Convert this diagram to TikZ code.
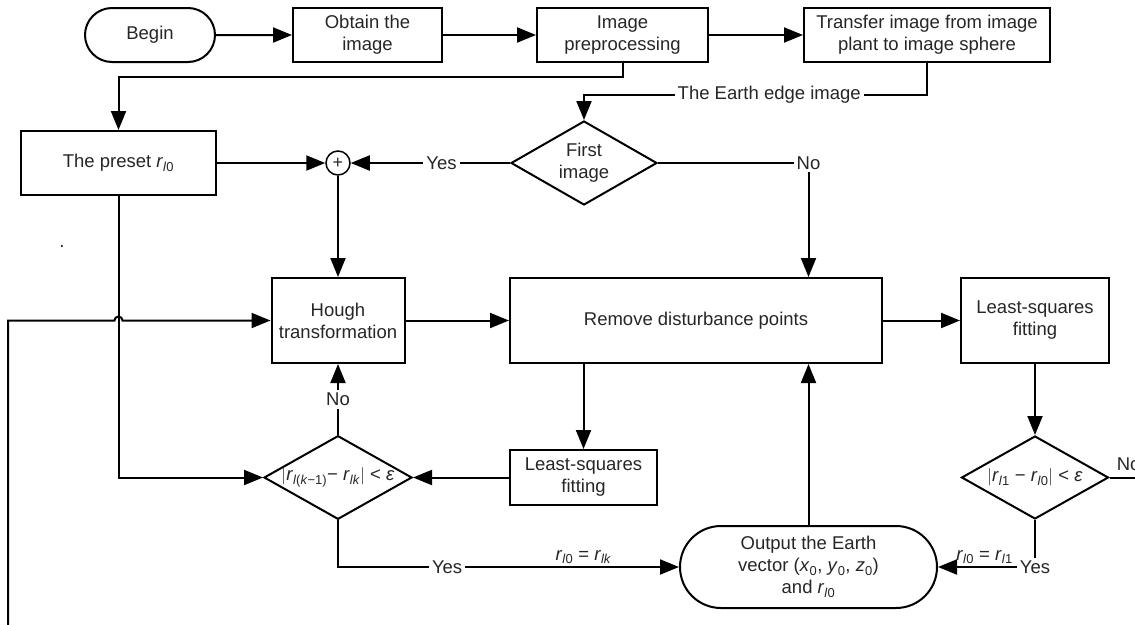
\documentclass[tikz,border=0pt]{standalone}
\usepackage{fontspec}
\setmainfont{Liberation Sans}
\usetikzlibrary{shapes.geometric,shapes.misc,arrows.meta}
\newcommand{\rl}[1]{\textit{r}\textsubscript{#1}}

\begin{document}
\begin{tikzpicture}[x=1pt,y=-1pt,line width=2pt]
        \tikzstyle{every node}=[font={\fontsize{18.5}{22}\selectfont}, align=center, text=black!85]
        \tikzstyle{process}=[draw, rectangle, inner sep=2pt]
        \tikzstyle{terminal}=[draw, rounded rectangle, inner sep=2pt]
        \tikzstyle{decision}=[draw, diamond, aspect=1.75, inner sep=0pt]
        \tikzstyle{arr}=[-{Triangle[length=19pt,width=15pt]}]
        \tikzstyle{tag}=[fill=white, inner sep=3pt]
        \useasboundingbox (0,0) rectangle (1135,624);
        % top row
        \node [terminal, minimum width=134pt, minimum height=54pt] (begin) at (150,35) {Begin};
        \node [process, minimum width=149pt, minimum height=54pt] (obtain) at (367.5,35) {Obtain the\\image};
        \node [process, minimum width=171pt, minimum height=54pt] (prep) at (622.5,35) {Image\\preprocessing};
        \node [process, minimum width=246pt, minimum height=54pt] (transfer) at (927,35) {Transfer image from image\\plant to image sphere};
        % second row
        \node [draw, circle, minimum size=24pt, inner sep=0pt, line width=1.5pt] (plus) at (338,163) {\fontsize{18}{18}\selectfont +};
        \node [process, minimum width=195pt, minimum height=64pt] (preset) at (118.5,163) {The preset \rl{\textit{l}0}};
        \node [decision, minimum width=146pt, minimum height=84pt] (first) at (584,163) {First\\image};
        \node [inner sep=0pt] (dot) at (62,247) {.};
        % middle row
        \node [process, minimum width=133pt, minimum height=85pt] (hough) at (338,320.5) {Hough\\transformation};
        \node [process, minimum width=372pt, minimum height=85pt] (remove) at (696,320.5) {Remove disturbance points};
        \node [process, minimum width=148pt, minimum height=85pt] (lsr) at (1035,320.5) {Least-squares\\fitting};
        % lower rows
        \node [decision, minimum width=148pt, minimum height=83pt] (checkk) at (338,477.5) {$|$\rl{\textit{l}(\textit{k}−1)}− \rl{\textit{lk}}$|$ < \textit{ε}};
        \node [process, minimum width=147pt, minimum height=55pt] (lsl) at (583.5,477.5) {Least-squares\\fitting};
        \node [decision, minimum width=147pt, minimum height=83pt] (checkone) at (1035,477.5) {$|$\rl{\textit{l}1} − \rl{\textit{l}0}$|$ < \textit{ε}};
        \node [terminal, minimum width=261pt, minimum height=82pt] (output) at (808.5,567) {Output the Earth\\vector (\textit{x}\textsubscript{0}, \textit{y}\textsubscript{0}, \textit{z}\textsubscript{0})\\and \rl{\textit{l}0}};
        \coordinate (loopend) at (8,630);
        % connectors
        \draw[arr] (begin) -- (obtain);
        \draw[arr] (obtain) -- (prep);
        \draw[arr] (prep) -- (transfer);
        \draw[arr] (prep.south) -- ++(0,14) -| (preset.north);
        \draw[arr] (transfer.south) |- node[tag, pos=0.73] {The Earth edge image} ([yshift=25pt]first.north) -- (first.north);
        \draw[arr] (preset) -- (plus);
        \draw[arr] (first.west) -- node[tag, pos=0.43] {Yes} (plus.east);
        \draw[arr] (plus) -- (hough);
        \draw[arr] (first.east) -| node[tag, pos=0.5] {No} (remove.north -| output.north);
        \draw[arr] (loopend) |- ([xshift=-4pt]preset.south |- hough.west) arc[start angle=180, end angle=0, radius=4pt] -- (hough.west);
        \draw[arr] (hough) -- (remove);
        \draw[arr] (remove) -- (lsr);
        \draw[arr] (lsr) -- (checkone);
        \draw (checkone.east) -- ++(40,0);
        \node [anchor=base west] (nolab) at ([xshift=3pt,yshift=7pt]checkone.east) {No};
        \draw[arr] (checkone.south) |- node[tag, pos=0.5] {Yes} node[pos=0.76, above, inner sep=2pt] {\rl{\textit{l}0} = \rl{\textit{l}1}} (output.east);
        \draw[arr] (output.north) -- (remove.south -| output.north);
        \draw[arr] (remove.south -| lsl.north) -- (lsl.north);
        \draw[arr] (lsl) -- (checkk);
        \draw[arr] (checkk.north) -- node[tag] {No} (hough.south);
        \draw[arr] (preset.south) |- (checkk.west);
        \draw[arr] (checkk.south) |- node[tag, pos=0.66] {Yes} node[pos=0.86, above, inner sep=2pt] {\rl{\textit{l}0} = \rl{\textit{lk}}} (output.west);
\end{tikzpicture}
\end{document}
